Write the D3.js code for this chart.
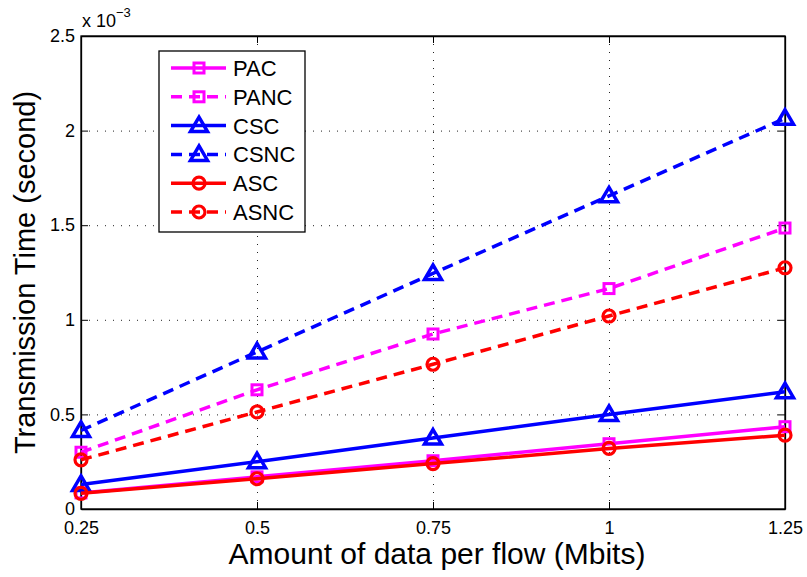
<!DOCTYPE html>
<html>
<head>
<meta charset="utf-8">
<script src="https://cdn.jsdelivr.net/npm/d3@7"></script>
<style>
  body { margin: 0; background: #fff; }
  svg { font-family: "Liberation Sans", Arial, Helvetica, sans-serif; }
</style>
</head>
<body>
<svg id="chart" width="807" height="577"></svg>
<script>
// amount of data per flow (Mbits)
const dataSizes = [0.25, 0.5, 0.75, 1, 1.25]
const xTickLabels = ['0.25', '0.5', '0.75', '1', '1.25']
const yTicks = [0, 0.5, 1, 1.5, 2, 2.5]
const yTickLabels = ['0', '0.5', '1', '1.5', '2', '2.5']

// transmission time, x 10^-3 s
const PAC = [0.085, 0.17, 0.255, 0.345, 0.435]
const PANC = [0.30, 0.63, 0.925, 1.165, 1.485]
const CSC = [0.13, 0.25, 0.375, 0.50, 0.62]
const CSNC = [0.415, 0.83, 1.245, 1.655, 2.065]
const ASC = [0.083, 0.16, 0.24, 0.32, 0.39]
const ASNC = [0.26, 0.513, 0.765, 1.02, 1.275]

const series = [
  { name: 'PAC', values: PAC, color: '#ff00ff', dashed: false, marker: 'square' },
  { name: 'PANC', values: PANC, color: '#ff00ff', dashed: true, marker: 'square' },
  { name: 'CSC', values: CSC, color: '#0000ff', dashed: false, marker: 'triangle' },
  { name: 'CSNC', values: CSNC, color: '#0000ff', dashed: true, marker: 'triangle' },
  { name: 'ASC', values: ASC, color: '#ff0000', dashed: false, marker: 'circle' },
  { name: 'ASNC', values: ASNC, color: '#ff0000', dashed: true, marker: 'circle' }
]

const svg = d3.select('#chart')
const pL = 81, pR = 785, pT = 36, pB = 509

const x = d3.scaleLinear().domain([0.25, 1.25]).range([pL, pR])
const y = d3.scaleLinear().domain([0, 2.5]).range([pB, pT])

// dotted grid
svg.append('g')
  .attr('transform', `translate(0,${pB})`)
  .call(d3.axisBottom(x).tickValues(dataSizes).tickSize(-(pB - pT)).tickFormat(''))
  .call(g => g.select('.domain').remove())
  .call(g => g.selectAll('line').attr('stroke', '#222').attr('stroke-dasharray', '1,7'))

svg.append('g')
  .attr('transform', `translate(${pL},0)`)
  .call(d3.axisLeft(y).tickValues(yTicks).tickSize(-(pR - pL)).tickFormat(''))
  .call(g => g.select('.domain').remove())
  .call(g => g.selectAll('line').attr('stroke', '#222').attr('stroke-dasharray', '1,7'))

// axes with inward ticks
const axes = svg.append('g')
axes.append('g')
  .attr('transform', `translate(0,${pB})`)
  .call(d3.axisBottom(x).tickValues(dataSizes).tickSizeInner(-7).tickSizeOuter(0).tickPadding(12)
    .tickFormat((d, i) => xTickLabels[i]))
axes.append('g')
  .attr('transform', `translate(0,${pT})`)
  .call(d3.axisTop(x).tickValues(dataSizes).tickSizeInner(-7).tickSizeOuter(0).tickFormat(''))
axes.append('g')
  .attr('transform', `translate(${pL},0)`)
  .call(d3.axisLeft(y).tickValues(yTicks).tickSizeInner(-7).tickSizeOuter(0).tickPadding(6)
    .tickFormat((d, i) => yTickLabels[i]))
axes.append('g')
  .attr('transform', `translate(${pR},0)`)
  .call(d3.axisRight(y).tickValues(yTicks).tickSizeInner(-7).tickSizeOuter(0).tickFormat(''))

axes.selectAll('.tick text').attr('font-size', 18).attr('fill', '#000')
  .style('font-family', '"Liberation Sans", Arial, sans-serif')
axes.selectAll('.domain, .tick line').attr('stroke', '#000')
axes.selectAll('.domain').attr('stroke-width', 1.3)

svg.append('rect')
  .attr('x', pL).attr('y', pT)
  .attr('width', pR - pL).attr('height', pB - pT)
  .attr('fill', 'none').attr('stroke', '#000').attr('stroke-width', 1.3)

// lines
const line = d3.line().x((d, i) => x(dataSizes[i])).y(d => y(d))

const drawMarker = (g, type, cx, cy, color) => {
  if (type === 'square') {
    g.append('rect').attr('x', cx - 5).attr('y', cy - 5).attr('width', 10).attr('height', 10)
      .attr('fill', 'none').attr('stroke', color).attr('stroke-width', 3)
  } else if (type === 'triangle') {
    g.append('path')
      .attr('d', `M${cx},${cy - 8.5}L${cx + 8.5},${cy + 6}L${cx - 8.5},${cy + 6}Z`)
      .attr('fill', 'none').attr('stroke', color).attr('stroke-width', 3.5).attr('stroke-linejoin', 'miter')
  } else {
    g.append('circle').attr('cx', cx).attr('cy', cy).attr('r', 6)
      .attr('fill', 'none').attr('stroke', color).attr('stroke-width', 3.2)
  }
}

const plot = svg.append('g')
series.forEach(s => {
  const g = plot.append('g')
  g.append('path')
    .attr('d', line(s.values))
    .attr('fill', 'none')
    .attr('stroke', s.color)
    .attr('stroke-width', 3.5)
    .attr('stroke-dasharray', s.dashed ? '11,7' : null)
  s.values.forEach((v, i) => drawMarker(g, s.marker, x(dataSizes[i]), y(v), s.color))
})

// legend
const lg = svg.append('g')
lg.append('rect')
  .attr('x', 159).attr('y', 51).attr('width', 146).attr('height', 181)
  .attr('fill', '#fff').attr('stroke', '#000').attr('stroke-width', 1.3)
series.forEach((s, i) => {
  const cy = 68 + i * 28.8
  lg.append('line')
    .attr('x1', 171).attr('x2', 226).attr('y1', cy).attr('y2', cy)
    .attr('stroke', s.color).attr('stroke-width', 3.5)
    .attr('stroke-dasharray', s.dashed ? '11,7' : null)
  drawMarker(lg, s.marker, 199, cy, s.color)
  lg.append('text')
    .attr('x', 233).attr('y', cy + 8)
    .attr('font-size', 22)
    .text(s.name)
})

// axis labels
svg.append('text')
  .attr('x', 437).attr('y', 564)
  .attr('text-anchor', 'middle')
  .attr('font-size', 30)
  .text('Amount of data per flow (Mbits)')

svg.append('text')
  .attr('transform', `translate(35,${(pT + pB) / 2}) rotate(-90)`)
  .attr('text-anchor', 'middle')
  .attr('font-size', 29)
  .text('Transmission Time (second)')

// exponent label
const ex = svg.append('text').attr('x', 82).attr('y', 27).attr('font-size', 18)
ex.append('tspan').text('x 10')
ex.append('tspan').attr('dy', -10).attr('font-size', 13).text('−3')
</script>
</body>
</html>
